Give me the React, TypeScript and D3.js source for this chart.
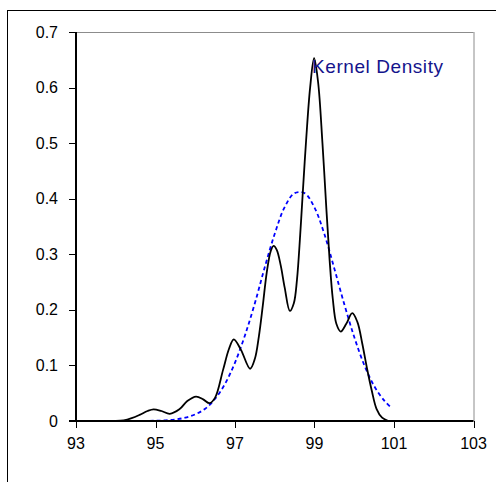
import * as d3 from 'd3'

// Kernel density estimate (black solid)
const kdeX = [
  94.0, 94.2, 94.4, 94.6, 94.8, 94.95, 95.15, 95.36, 95.6, 95.8, 96.02, 96.2, 96.36,
  96.5, 96.7, 96.85, 96.97, 97.15, 97.38, 97.5, 97.6, 97.7, 97.8, 97.9, 97.97, 98.05,
  98.15, 98.25, 98.38, 98.48, 98.56, 98.64, 98.7, 98.79, 98.89, 98.99, 99.09, 99.2, 99.3,
  99.38, 99.46, 99.55, 99.66, 99.8, 99.95, 100.08, 100.2, 100.32, 100.44, 100.56, 100.7, 100.86,
]
const kdeY = [
  0, 0.001, 0.005, 0.011, 0.018, 0.021, 0.018, 0.013, 0.021, 0.036, 0.044, 0.039, 0.032,
  0.042, 0.092, 0.13, 0.147, 0.128, 0.094, 0.112, 0.152, 0.208, 0.268, 0.306, 0.315, 0.308,
  0.28, 0.24, 0.198, 0.212, 0.255, 0.335, 0.405, 0.506, 0.6, 0.653, 0.61, 0.5, 0.38,
  0.29, 0.22, 0.175, 0.161, 0.175, 0.194, 0.178, 0.14, 0.095, 0.055, 0.022, 0.006, 0,
]

// Fitted normal curve (blue dashed)
const normX = [
  94.5, 94.75, 95.0, 95.25, 95.5, 95.75, 96.0, 96.25, 96.5, 96.75, 97.0, 97.25, 97.5,
  97.75, 98.0, 98.25, 98.5, 98.75, 99.0, 99.25, 99.5, 99.75, 100.0, 100.25, 100.5, 100.75, 100.9,
]
const normY = [
  0, 0.0002, 0.0005, 0.0012, 0.0028, 0.006, 0.012, 0.022, 0.04, 0.067, 0.105, 0.154, 0.212,
  0.277, 0.337, 0.385, 0.41, 0.41, 0.384, 0.336, 0.274, 0.21, 0.151, 0.101, 0.063, 0.037, 0.026,
]

const xTicks = [93, 95, 97, 99, 101, 103]
const yTicks = [0, 0.1, 0.2, 0.3, 0.4, 0.5, 0.6, 0.7]
const yTickLabels = ['0', '0.1', '0.2', '0.3', '0.4', '0.5', '0.6', '0.7']

export default function App() {
  const width = 496
  const height = 482
  const left = 76
  const right = 473.5
  const top = 32
  const bottom = 421

  const x = d3.scaleLinear().domain([93, 103]).range([left, right])
  const y = d3.scaleLinear().domain([0, 0.7]).range([bottom, top])

  const line = d3.line<[number, number]>()
    .x((d) => x(d[0]))
    .y((d) => Math.min(y(d[1]), bottom))
    .curve(d3.curveCatmullRom.alpha(0.5))

  const kdePath = line(kdeX.map((v, i) => [v, kdeY[i]]))
  const normPath = line(normX.map((v, i) => [v, normY[i]]))

  const font = 'Liberation Sans, Arial, sans-serif'

  return (
    <svg
      width={width}
      height={height}
      style={{ position: 'absolute', left: 0, top: 0, background: '#fff' }}
    >
      {/* outer frame */}
      <rect x={7.5} y={10.5} width={520} height={520} fill="none" stroke="#000" strokeWidth={1} />

      {/* plot border top / right */}
      <line x1={left} x2={right} y1={top + 0.5} y2={top + 0.5} stroke="#8c8c8c" strokeWidth={1} />
      <line x1={right + 0.5} x2={right + 0.5} y1={top} y2={bottom} stroke="#8c8c8c" strokeWidth={1} />

      {/* curves */}
      <path d={normPath ?? ''} fill="none" stroke="#0000ff" strokeWidth={1.8} strokeDasharray="4,3" />
      <path d={kdePath ?? ''} fill="none" stroke="#000" strokeWidth={1.8} />

      {/* y axis */}
      <line x1={left} x2={left} y1={top} y2={bottom} stroke="#000" strokeWidth={2} />
      {yTicks.map((t, i) => (
        <g key={t}>
          <line x1={left - 7} x2={left} y1={Math.round(y(t)) + 0.5} y2={Math.round(y(t)) + 0.5} stroke="#000" strokeWidth={1} />
          <text
            x={58}
            y={y(t)}
            dy="0.35em"
            textAnchor="end"
            fontFamily={font}
            fontSize={16}
            fill="#000"
          >
            {yTickLabels[i]}
          </text>
        </g>
      ))}

      {/* x axis */}
      <line x1={left - 7} x2={right} y1={bottom} y2={bottom} stroke="#000" strokeWidth={2} />
      {xTicks.map((t) => (
        <g key={t}>
          <line x1={Math.round(x(t)) + 0.5} x2={Math.round(x(t)) + 0.5} y1={bottom} y2={bottom + 7} stroke="#000" strokeWidth={1} />
          <text x={x(t)} y={449} textAnchor="middle" fontFamily={font} fontSize={16} fill="#000">
            {t}
          </text>
        </g>
      ))}

      <text
        x={312}
        y={73}
        fontFamily={font}
        fontSize={19}
        fill="#14148c"
        textLength={131}
        lengthAdjust="spacing"
      >
        Kernel Density
      </text>
    </svg>
  )
}
